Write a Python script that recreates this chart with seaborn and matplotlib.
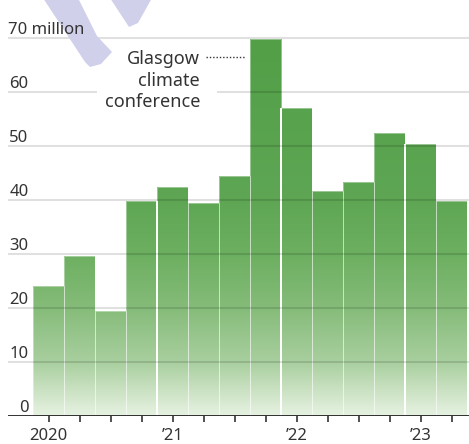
import numpy as np
import pandas as pd
import matplotlib
matplotlib.use("Agg")
import matplotlib.pyplot as plt
import seaborn as sns
from matplotlib.colors import LinearSegmentedColormap
from matplotlib.patches import Polygon, Rectangle

# ---- data ----
quarters = ["2020Q1", "2020Q2", "2020Q3", "2020Q4",
            "2021Q1", "2021Q2", "2021Q3", "2021Q4",
            "2022Q1", "2022Q2", "2022Q3", "2022Q4",
            "2023Q1", "2023Q2"]
values = [24.0, 29.7, 19.4, 39.9, 42.4, 39.5, 44.5, 69.8,
          57.0, 41.7, 43.4, 52.5, 50.3, 39.9]
year_labels = ["2020", "\u201921", "\u201922", "\u201923"]
y_ticks = [0, 10, 20, 30, 40, 50, 60, 70]
annotation = "Glasgow\nclimate\nconference"

W, H = 469, 444
sns.set_theme(style="white")
plt.rcParams["font.family"] = ["Noto Sans", "DejaVu Sans"]
TXT = "#333333"

fig = plt.figure(figsize=(W / 100, H / 100), dpi=100)
ax = fig.add_axes([8 / W, 1 - 416 / H, 461 / W, 416 / H])

df = pd.DataFrame({"quarter": quarters, "value": values})
sns.barplot(data=df, x="quarter", y="value", ax=ax, color="#55a24a",
            width=1.0, saturation=1, edgecolor=(1, 1, 1, 0.45),
            linewidth=0.6, zorder=3)

ppx = 31.0          # pixels per category
ppy = 5.4           # pixels per unit
xmin = -0.5 - 25 / ppx
xmax = 13.5 + 2 / ppx
ymax = 416 / ppy


def dx(p):
    return (p - 33) / ppx - 0.5


def dy(p):
    return (416 - p) / ppy


cmap = LinearSegmentedColormap.from_list("g", [
    (0.00, "#e6f2e1"), (0.07, "#c9e1c1"), (0.14, "#a9cf9f"),
    (0.29, "#84bb78"), (0.43, "#6caf60"), (0.57, "#5ea654"),
    (1.00, "#529f47")])
grad = np.linspace(0, 1, 256).reshape(-1, 1)
for p in ax.patches:
    p.set_facecolor("none")
    im = ax.imshow(grad, extent=[xmin, xmax, 0, 70], origin="lower",
                   aspect="auto", cmap=cmap, zorder=2.5)
    im.set_clip_path(p)

# year separators
for b in (3.5, 7.5, 11.5):
    i = int(b - 0.5)
    ax.vlines(b, 0, min(values[i], values[i + 1]), color="white",
              lw=1.4, zorder=3.5)

# gridlines
for v in y_ticks[1:]:
    ax.hlines(v, xmin, xmax, color="black", alpha=0.12, lw=1.5, zorder=4)
ax.hlines(0, xmin, xmax, color="#222222", lw=1.3, zorder=4.2)

# y labels
off = 4.5 / ppy
for v in y_ticks:
    if v == 70:
        ax.text(xmin, v + off, "70 million", ha="left", va="baseline",
                fontsize=12, color=TXT, zorder=6)
    else:
        ax.text(xmin + 20.5 / ppx, v + off, str(v), ha="right",
                va="baseline", fontsize=12, color=TXT, zorder=6)

# annotation (right-aligned, right edge ~200 px, last baseline ~107 px)
ax.text(dx(200), dy(107), annotation,
        ha="right", va="baseline", multialignment="right", fontsize=13,
        color=TXT, linespacing=1.24, zorder=6)
ax.add_patch(Rectangle((dx(97), dy(112)), 120 / ppx, 66 / ppy,
                       fc="white", ec="none", zorder=5))
ax.plot([dx(206), dx(245)], [dy(57)] * 2, color=TXT, lw=1.0,
        ls=(0, (1, 1.4)), zorder=6, solid_capstyle="butt")

# x axis
ax.set_xlim(xmin, xmax)
ax.set_ylim(0, ymax)
ax.set_xticks(range(len(quarters)))
ax.set_xticklabels([year_labels[i // 4] if i % 4 == 0 else ""
                    for i in range(len(quarters))])
ax.tick_params(axis="x", length=4, width=1.1, color="#222222",
               labelsize=12, labelcolor=TXT, pad=4.5, bottom=True)
ax.set_yticks([])
ax.set_xlabel("")
ax.set_ylabel("")
for s in ax.spines.values():
    s.set_visible(False)
ax.set_facecolor("none")


# watermark fragments
def px(pts):
    return [(x / W, 1 - y / H) for x, y in pts]


for pts in ([(43, -2), (78, -2), (97, 36), (112, 52), (101, 64), (90, 67),
             (85, 62)],
            [(110, -2), (152, -2), (138, 23), (129, 27)]):
    ax.add_patch(Polygon(px(pts), closed=True, transform=fig.transFigure,
                         fc="#d0d0eb", ec="none", clip_on=False, zorder=5.5))

fig.savefig("out.png", dpi=100)
